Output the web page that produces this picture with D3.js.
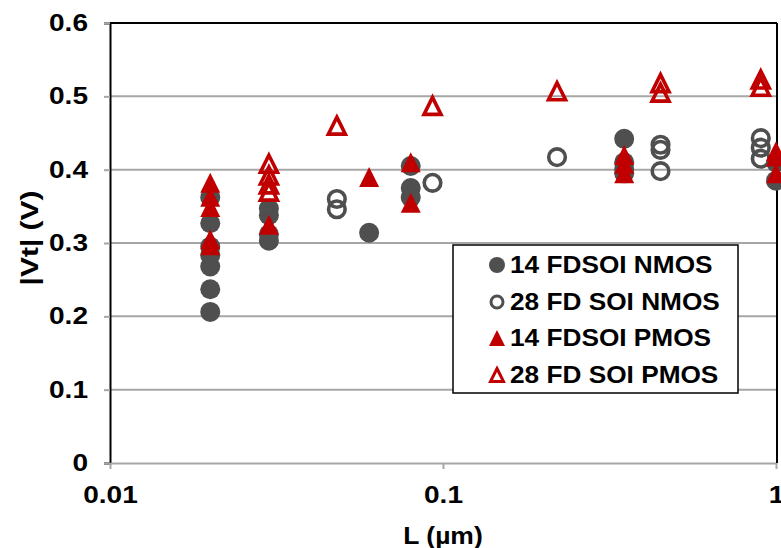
<!DOCTYPE html>
<html><head><meta charset="utf-8">
<script src="https://cdn.jsdelivr.net/npm/d3@7"></script>
<style>body{margin:0;background:#fff}svg{display:block}text{font-family:"Liberation Sans",Arial,sans-serif;font-weight:bold;fill:#000}</style>
</head><body>
<script>
// Data (L in µm, |Vt| in V)
const nmos14L = [0.02,0.02,0.02,0.02,0.02,0.02,0.02, 0.03,0.03,0.03,0.03, 0.06, 0.08,0.08,0.08, 0.35,0.35,0.35,0.35, 1.0,1.0];
const nmos14V = [0.206,0.237,0.268,0.283,0.295,0.327,0.362, 0.347,0.338,0.312,0.303, 0.314, 0.405,0.375,0.362, 0.442,0.41,0.4,0.395, 0.41,0.385];
const nmos28L = [0.048,0.048, 0.093, 0.22, 0.45,0.45,0.45, 0.9,0.9,0.9];
const nmos28V = [0.36,0.346, 0.382, 0.417, 0.434,0.427,0.398, 0.443,0.43,0.415];
const pmos14L = [0.02,0.02,0.02,0.02,0.02, 0.03, 0.06, 0.08,0.08, 0.35,0.35,0.35, 1.0,1.0,1.0];
const pmos14V = [0.382,0.363,0.349,0.305,0.297, 0.325, 0.39, 0.41,0.355, 0.42,0.408,0.395, 0.425,0.418,0.395];
const pmos28L = [0.03,0.03,0.03,0.03, 0.048, 0.093, 0.22, 0.45,0.45, 0.9,0.9];
const pmos28V = [0.408,0.392,0.38,0.37, 0.46, 0.487, 0.507, 0.518,0.505, 0.523,0.513];
const seriesNames = ["14 FDSOI NMOS","28 FD SOI NMOS","14 FDSOI PMOS","28 FD SOI PMOS"];
const xTicks = [0.01,0.1,1];
const yTicks = [0,0.1,0.2,0.3,0.4,0.5,0.6];

const W=781,H=548;
const svg=d3.select("body").append("svg").attr("width",W).attr("height",H);
const x=d3.scaleLog().domain([0.01,1]).range([110,776]);
const y=d3.scaleLinear().domain([0,0.6]).range([463,23]);
const GRAY="#4f4f4f", RED="#C00000";
function stretch(sel,f){sel.each(function(){const L=this.getComputedTextLength();d3.select(this).attr("textLength",L*f).attr("lengthAdjust","spacingAndGlyphs");});}

// gridlines
svg.append("g").selectAll("line").data(yTicks.filter(d=>d>0)).join("line")
  .attr("x1",110).attr("x2",776).attr("y1",d=>y(d)).attr("y2",d=>y(d))
  .attr("stroke","#a6a6a6").attr("stroke-width",2);
// y axis
const ya=svg.append("g").attr("transform","translate(110,0)")
  .call(d3.axisLeft(y).tickValues(yTicks).tickFormat(d=>d===0?"0":d3.format(".1f")(d)).tickSize(6).tickPadding(16));
ya.select(".domain").attr("stroke","#000").attr("stroke-width",2);
ya.selectAll(".tick line").attr("stroke","#a6a6a6").attr("stroke-width",2);
ya.selectAll("text").style("font-size","23px").attr("font-family",null).attr("fill","#000");
stretch(ya.selectAll("text"),1.22);
// x axis
const xa=svg.append("g").attr("transform","translate(0,463)")
  .call(d3.axisBottom(x).tickValues(xTicks).tickFormat(d=>String(d)).tickSize(6).tickSizeOuter(0).tickPadding(18));
xa.select(".domain").attr("stroke","#a6a6a6").attr("stroke-width",2);
xa.selectAll(".tick line").attr("stroke","#a6a6a6").attr("stroke-width",2);
xa.selectAll("text").style("font-size","23px").attr("font-family",null).attr("fill","#000");
stretch(xa.selectAll("text"),1.22);
// top & right border
svg.append("line").attr("x1",110).attr("x2",777).attr("y1",23).attr("y2",23).attr("stroke","#000").attr("stroke-width",2);
svg.append("line").attr("x1",777).attr("x2",777).attr("y1",23).attr("y2",463).attr("stroke","#000").attr("stroke-width",2);

// axis titles
const xt=svg.append("text").attr("x",443).attr("y",544).attr("text-anchor","middle").style("font-size","23px").text("L (µm)");
stretch(xt,1.15);
const yt=svg.append("text").attr("transform","translate(38,238) rotate(-90)").attr("text-anchor","middle").style("font-size","23px").text("|Vt| (V)");
stretch(yt,1.3);

// triangle symbol
const tri={draw(ctx,size){const s=Math.sqrt(size);ctx.moveTo(0,-s/2);ctx.lineTo(s/2,s/2);ctx.lineTo(-s/2,s/2);ctx.closePath();}};
const zip=(L,V)=>L.map((l,i)=>({l,v:V[i]}));
const mk=svg.append("g");
mk.selectAll(".n14").data(zip(nmos14L,nmos14V)).join("path")
  .attr("d",d3.symbol(d3.symbolCircle,Math.PI*100)).attr("transform",d=>`translate(${x(d.l)},${y(d.v)})`).attr("fill",GRAY);
mk.selectAll(".n28").data(zip(nmos28L,nmos28V)).join("path")
  .attr("d",d3.symbol(d3.symbolCircle,Math.PI*8.3*8.3)).attr("transform",d=>`translate(${x(d.l)},${y(d.v)})`).attr("fill","none").attr("stroke",GRAY).attr("stroke-width",3.6);
mk.selectAll(".p14").data(zip(pmos14L,pmos14V)).join("path")
  .attr("d",d3.symbol(tri,400)).attr("transform",d=>`translate(${x(d.l)},${y(d.v)})`).attr("fill",RED);
mk.selectAll(".p28").data(zip(pmos28L,pmos28V)).join("path")
  .attr("d",d3.symbol(tri,289)).attr("transform",d=>`translate(${x(d.l)},${y(d.v)})`).attr("fill","none").attr("stroke",RED).attr("stroke-width",3.6);

// legend
const lg=svg.append("g");
lg.append("rect").attr("x",453).attr("y",245).attr("width",285).attr("height",148).attr("fill","#fff").attr("stroke","#000").attr("stroke-width",1.5);
const rows=[265,302,338,375];
const leg=lg.selectAll("g.item").data(seriesNames).join("g").attr("transform",(d,i)=>`translate(497,${rows[i]})`);
leg.each(function(d,i){
  const g=d3.select(this);
  if(i===0) g.append("path").attr("d",d3.symbol(d3.symbolCircle,Math.PI*64)).attr("fill",GRAY);
  if(i===1) g.append("path").attr("d",d3.symbol(d3.symbolCircle,Math.PI*36)).attr("fill","none").attr("stroke",GRAY).attr("stroke-width",3);
  if(i===2) g.append("path").attr("d",d3.symbol(tri,256)).attr("fill",RED);
  if(i===3) g.append("path").attr("d",d3.symbol(tri,169)).attr("fill","none").attr("stroke",RED).attr("stroke-width",3);
  const t=g.append("text").attr("x",13).attr("y",8).style("font-size","23px").text(d);
  stretch(t,1.14);
});
</script>
</body></html>
